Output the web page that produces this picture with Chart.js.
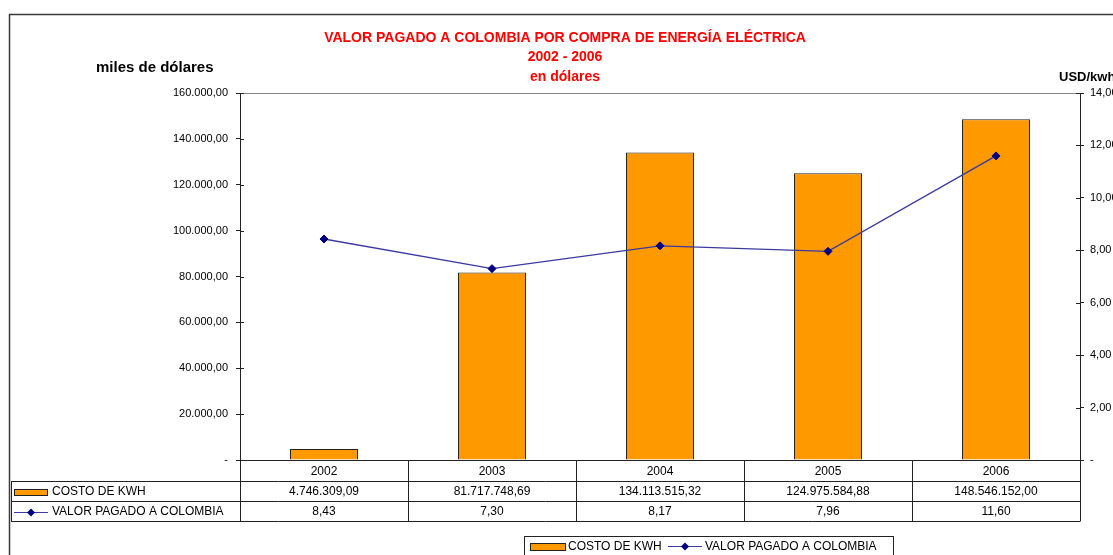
<!DOCTYPE html>
<html>
<head>
<meta charset="utf-8">
<script src="https://cdn.jsdelivr.net/npm/chart.js@4/dist/chart.umd.min.js"></script>
<style>
html,body{margin:0;padding:0;background:#fff;}
#wrap{position:relative;width:1113px;height:555px;}
</style>
</head>
<body>
<div id="wrap"><canvas id="c"></canvas></div>
<script>
const categories = ['2002', '2003', '2004', '2005', '2006'];
const costoKwh = [4746309.09, 81717748.69, 134113515.32, 124975584.88, 148546152.00];
const valorPagado = [8.43, 7.30, 8.17, 7.96, 11.60];
const titleLines = ['VALOR PAGADO A COLOMBIA POR COMPRA DE ENERGÍA ELÉCTRICA', '2002 - 2006', 'en dólares'];
const seriesNames = ['COSTO DE KWH', 'VALOR PAGADO A COLOMBIA'];
const leftAxisTitle = 'miles de dólares';
const rightAxisTitle = 'USD/kwh';

const costoMiles = costoKwh.map(v => v / 1000);

function fmt(n, dec) {
  const neg = n < 0; n = Math.abs(n);
  let s = n.toFixed(dec);
  let [i, d] = s.split('.');
  i = i.replace(/\B(?=(\d{3})+(?!\d))/g, '.');
  return (neg ? '-' : '') + i + (d ? ',' + d : '');
}

const FONT = '"Liberation Sans", Arial, sans-serif';
const BAR_COLOR = '#FF9900';
const LINE_COLOR = '#3a3aa0';
const MARK_COLOR = '#000080';

function diamond(ctx, x, y, r) {
  ctx.beginPath();
  ctx.moveTo(x, y - r); ctx.lineTo(x + r, y); ctx.lineTo(x, y + r); ctx.lineTo(x - r, y); ctx.closePath();
  ctx.fill();
}

const decor = {
  id: 'decor',
  beforeDraw(chart) {
    const ctx = chart.ctx;
    ctx.save();
    ctx.fillStyle = '#fff';
    ctx.fillRect(0, 0, chart.width, chart.height);
    ctx.restore();
  },
  afterDraw(chart) {
    const ctx = chart.ctx;
    const ca = chart.chartArea;
    const xs = chart.scales.x;
    const yL = chart.scales.y;
    const yR = chart.scales.y1;
    ctx.save();
    // outer border
    ctx.strokeStyle = '#3a3a3a';
    ctx.lineWidth = 1.5;
    ctx.strokeRect(9.5, 14.5, 1300, 700);

    // plot top border
    ctx.strokeStyle = '#888';
    ctx.lineWidth = 1;
    ctx.beginPath(); ctx.moveTo(ca.left, ca.top + 0.5); ctx.lineTo(ca.right, ca.top + 0.5); ctx.stroke();

    // inner tick halves
    ctx.strokeStyle = '#222';
    yL.ticks.forEach((t, i) => {
      const y = Math.round(yL.getPixelForTick(i)) + 0.5;
      ctx.beginPath(); ctx.moveTo(ca.left, y); ctx.lineTo(ca.left + 4, y); ctx.stroke();
    });
    yR.ticks.forEach((t, i) => {
      const y = Math.round(yR.getPixelForTick(i)) + 0.5;
      ctx.beginPath(); ctx.moveTo(ca.right - 4, y); ctx.lineTo(ca.right, y); ctx.stroke();
    });

    // titles
    ctx.fillStyle = '#ff0000';
    ctx.font = 'bold 14px ' + FONT;
    ctx.textAlign = 'center';
    ctx.textBaseline = 'middle';
    const tY = [38, 57, 77];
    titleLines.forEach((l, i) => ctx.fillText(l, 565, tY[i]));

    ctx.fillStyle = '#000';
    ctx.font = 'bold 15px ' + FONT;
    ctx.textAlign = 'left';
    ctx.fillText(leftAxisTitle, 96, 68);
    ctx.font = 'bold 13px ' + FONT;
    ctx.fillText(rightAxisTitle, 1059, 77);

    // data table
    const rowTop = [ca.bottom, 481, 501, 521];
    const tabLeft = 11;
    const n = categories.length;
    const step = (xs.getPixelForValue(1) - xs.getPixelForValue(0));
    const edges = [];
    for (let i = 0; i <= n; i++) edges.push(Math.round(xs.getPixelForValue(0) - step / 2 + i * step) + 0.5);
    ctx.strokeStyle = '#222';
    ctx.lineWidth = 1;
    ctx.beginPath();
    ctx.moveTo(ca.left - 4, Math.round(rowTop[0]) + 0.5); ctx.lineTo(ca.right, Math.round(rowTop[0]) + 0.5);
    for (let r = 1; r < 4; r++) { ctx.moveTo(tabLeft, rowTop[r] + 0.5); ctx.lineTo(ca.right, rowTop[r] + 0.5); }
    edges.forEach(x => { ctx.moveTo(x, rowTop[0]); ctx.lineTo(x, rowTop[3] + 0.5); });
    ctx.moveTo(tabLeft + 0.5, rowTop[1]); ctx.lineTo(tabLeft + 0.5, rowTop[3] + 0.5);
    ctx.stroke();

    ctx.font = '12px ' + FONT;
    ctx.fillStyle = '#000';
    ctx.textAlign = 'center';
    ctx.textBaseline = 'middle';
    categories.forEach((c, i) => {
      const x = xs.getPixelForValue(i);
      ctx.fillText(c, x, (rowTop[0] + rowTop[1]) / 2 + 1);
      ctx.fillText(fmt(costoKwh[i], 2), x, (rowTop[1] + rowTop[2]) / 2 + 1);
      ctx.fillText(fmt(valorPagado[i], 2), x, (rowTop[2] + rowTop[3]) / 2 + 1);
    });
    ctx.textAlign = 'left';
    const y1 = (rowTop[1] + rowTop[2]) / 2 + 1;
    const y2 = (rowTop[2] + rowTop[3]) / 2 + 1;
    ctx.fillStyle = BAR_COLOR; ctx.fillRect(14, y1 - 3, 33, 6);
    ctx.strokeStyle = '#222'; ctx.strokeRect(14.5, y1 - 3 + 0.5, 33, 6);
    ctx.fillStyle = '#000';
    ctx.fillText(seriesNames[0], 52, y1);
    ctx.strokeStyle = LINE_COLOR;
    ctx.beginPath(); ctx.moveTo(14, Math.round(y2) + 0.5); ctx.lineTo(48, Math.round(y2) + 0.5); ctx.stroke();
    ctx.fillStyle = MARK_COLOR; diamond(ctx, 31, Math.round(y2) + 0.5, 4);
    ctx.fillStyle = '#000';
    ctx.fillText(seriesNames[1], 52, y2);

    // bottom legend
    ctx.strokeStyle = '#222';
    ctx.lineWidth = 1;
    ctx.strokeRect(524.5, 536.5, 369, 40);
    const ly = 546;
    ctx.fillStyle = BAR_COLOR; ctx.fillRect(530, ly - 3, 35, 7);
    ctx.strokeRect(530.5, ly - 3 + 0.5, 35, 7);
    ctx.fillStyle = '#000';
    ctx.fillText(seriesNames[0], 568, ly + 1);
    ctx.strokeStyle = LINE_COLOR;
    ctx.beginPath(); ctx.moveTo(668, ly + 0.5); ctx.lineTo(702, ly + 0.5); ctx.stroke();
    ctx.fillStyle = MARK_COLOR; diamond(ctx, 685, ly + 0.5, 4);
    ctx.fillStyle = '#000';
    ctx.fillText(seriesNames[1], 705, ly + 1);
    ctx.restore();
  }
};

new Chart(document.getElementById('c'), {
  data: {
    labels: categories,
    datasets: [
      {
        type: 'line',
        label: seriesNames[1],
        data: valorPagado,
        yAxisID: 'y1',
        borderColor: LINE_COLOR,
        borderWidth: 1.3,
        pointStyle: 'rectRot',
        pointRadius: 4,
        pointBackgroundColor: MARK_COLOR,
        pointBorderColor: MARK_COLOR,
        pointBorderWidth: 1,
        tension: 0,
        order: 0
      },
      {
        type: 'bar',
        label: seriesNames[0],
        data: costoMiles,
        yAxisID: 'y',
        backgroundColor: BAR_COLOR,
        borderColor: '#222',
        borderWidth: 1,
        categoryPercentage: 1,
        barPercentage: 0.405,
        order: 1
      }
    ]
  },
  options: {
    responsive: true,
    maintainAspectRatio: false,
    animation: false,
    layout: { padding: { left: 9, right: 0, top: 93, bottom: 95 } },
    plugins: { legend: { display: false }, title: { display: false }, tooltip: { enabled: false } },
    scales: {
      x: { display: false, offset: true },
      y: {
        position: 'left',
        min: 0, max: 160000,
        afterFit(s) { s.width = 231; },
        border: { display: true, color: '#222', width: 1 },
        grid: { drawOnChartArea: false, tickLength: 4, color: '#222' },
        ticks: {
          stepSize: 20000, padding: 8, color: '#000',
          font: { family: FONT, size: 11 },
          callback: v => v === 0 ? '-' : fmt(v, 2)
        }
      },
      y1: {
        position: 'right',
        min: 0, max: 14,
        afterFit(s) { s.width = 33; },
        border: { display: true, color: '#222', width: 1 },
        grid: { drawOnChartArea: false, tickLength: 4, color: '#222' },
        ticks: {
          stepSize: 2, padding: 6, color: '#000',
          font: { family: FONT, size: 11 },
          callback: v => v === 0 ? '-' : fmt(v, 2)
        }
      }
    }
  },
  plugins: [decor]
});
</script>
</body>
</html>
